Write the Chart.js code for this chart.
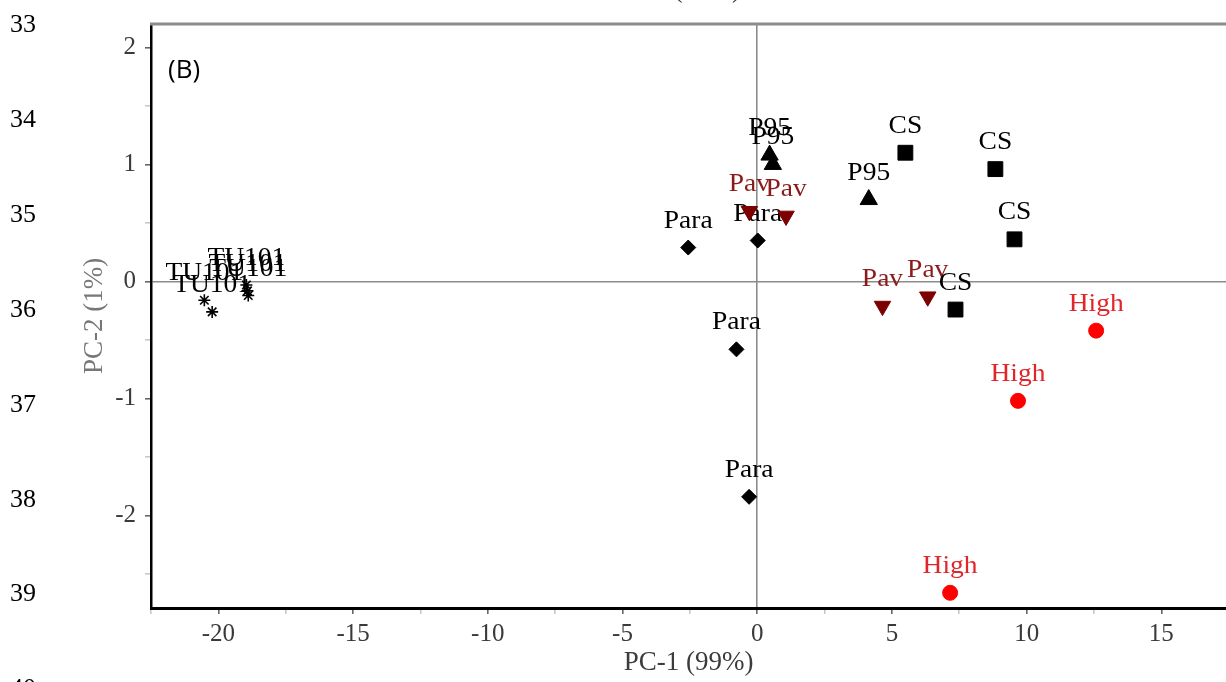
<!DOCTYPE html>
<html>
<head>
<meta charset="utf-8">
<script src="https://cdn.jsdelivr.net/npm/chart.js@4.4.0/dist/chart.umd.min.js"></script>
<style>
  html, body { margin: 0; padding: 0; background: #fff; overflow: hidden; }
  #wrap { position: relative; width: 1226px; height: 682px; }
</style>
</head>
<body>
<div id="wrap"><canvas id="pca" width="1226" height="682"></canvas></div>
<script>
// PCA score plot (B)
const tuX = [-20.52, -20.23, -18.96, -18.92, -18.89];
const tuY = [-0.16, -0.26, -0.03, -0.08, -0.12];
const paraX = [-2.56, 0.02, -0.77, -0.30];
const paraY = [0.29, 0.35, -0.58, -1.84];
const p95X = [0.46, 0.58, 4.14];
const p95Y = [1.08, 1.00, 0.70];
const pavX = [-0.29, 1.07, 4.65, 6.33];
const pavY = [0.60, 0.56, -0.21, -0.13];
const csX = [5.50, 8.84, 9.55, 7.36];
const csY = [1.10, 0.96, 0.36, -0.24];
const highX = [12.58, 9.68, 7.16];
const highY = [-0.42, -1.02, -2.66];

const xTicks = [-20, -15, -10, -5, 0, 5, 10, 15];
const xMinor = [-22.5, -17.5, -12.5, -7.5, -2.5, 2.5, 7.5, 12.5];
const yTicks = [-2, -1, 0, 1, 2];
const yMinor = [-2.5, -1.5, -0.5, 0.5, 1.5];

const lineNumbers = ['33', '34', '35', '36', '37', '38', '39', '40'];

const serif = '"Liberation Serif", "Times New Roman", serif';

function pts(xs, ys) { return xs.map((x, i) => ({ x: x, y: ys[i] })); }

function series(name, xs, ys, style, color, radius, extra) {
    return Object.assign({
        label: name,
        data: pts(xs, ys),
        pointStyle: style,
        pointRadius: radius,
        pointBackgroundColor: color,
        pointBorderColor: color,
        pointBorderWidth: 1,
        labelColor: '#000'
    }, extra || {});
}

const datasets = [
    series('TU101', tuX, tuY, 'star', '#000', 6, { pointBorderWidth: 1.6 }),
    series('Para', paraX, paraY, 'rectRot', '#000', 7.5),
    series('P95', p95X, p95Y, 'triangle', '#000', 10),
    series('Pav', pavX, pavY, 'triangle', '#7d0000', 9.5, { pointRotation: 180, labelColor: '#8b1a1a' }),
    series('CS', csX, csY, 'rect', '#000', 10.5),
    series('High', highX, highY, 'circle', '#ff0000', 7.5, { labelColor: '#e0262b' })
];

// sample names above each point, and page decorations
const decor = {
    id: 'decor',
    beforeDatasetsDraw(chart) {
        const ctx = chart.ctx;
        ctx.save();
        ctx.font = '25px ' + serif;
        ctx.textAlign = 'center';
        ctx.textBaseline = 'alphabetic';
        chart.data.datasets.forEach((ds, i) => {
            const meta = chart.getDatasetMeta(i);
            ctx.fillStyle = ds.labelColor;
            meta.data.forEach(p => {
                ctx.save();
                ctx.translate(p.x, p.y - 20);
                ctx.scale(1.1, 1);
                ctx.fillText(ds.label, 0, 0);
                ctx.restore();
            });
        });
        ctx.restore();
    },
    afterDraw(chart) {
        const ctx = chart.ctx;
        const a = chart.chartArea;
        ctx.save();
        // top frame line
        ctx.strokeStyle = '#8c8c8c';
        ctx.lineWidth = 3;
        ctx.beginPath();
        ctx.moveTo(a.left - 1, a.top);
        ctx.lineTo(a.right, a.top);
        ctx.stroke();
        // document line numbers
        ctx.fillStyle = '#000';
        ctx.font = '26px ' + serif;
        ctx.textAlign = 'left';
        ctx.textBaseline = 'alphabetic';
        lineNumbers.forEach((n, i) => ctx.fillText(n, 10, 32 + i * 94.9));
        // panel letter
        ctx.font = '26px "Open Sans", "Noto Sans", sans-serif';
        ctx.fillText('(B)', 168, 78);
        // bottom of the previous panel's axis title
        ctx.fillStyle = '#333';
        ctx.font = '27px ' + serif;
        ctx.textAlign = 'center';
        ctx.fillText('PC-1 (99%)', 676, -3);
        ctx.restore();
    }
};

new Chart(document.getElementById('pca').getContext('2d'), {
    type: 'scatter',
    data: { datasets: datasets },
    options: {
        responsive: false,
        animation: false,
        layout: { autoPadding: false, padding: { top: 23, left: 0, right: 0, bottom: 0 } },
        plugins: { legend: { display: false }, tooltip: { enabled: false } },
        scales: {
            x: {
                type: 'linear',
                min: -22.5,
                max: 17.4,
                afterFit: s => { s.height = 74; },
                afterBuildTicks: s => {
                    s.ticks = xTicks.concat(xMinor).sort((a, b) => a - b).map(v => ({ value: v }));
                },
                ticks: {
                    autoSkip: false,
                    maxRotation: 0,
                    padding: 5,
                    color: '#3a3a3a',
                    font: { family: serif, size: 25 },
                    callback: v => xTicks.includes(v) ? String(v) : ''
                },
                grid: {
                    color: c => (c.tick && c.tick.value === 0) ? '#8c8c8c' : 'rgba(0,0,0,0)',
                    tickColor: c => (c.tick && xTicks.includes(c.tick.value)) ? '#666' : '#c8c8c8',
                    lineWidth: 1.6,
                    tickLength: 6
                },
                border: { color: '#000', width: 3 },
                title: {
                    display: true,
                    text: 'PC-1 (99%)',
                    color: '#3c3c3c',
                    font: { family: serif, size: 27 },
                    padding: { top: 0, bottom: 3 }
                }
            },
            y: {
                type: 'linear',
                min: -2.79,
                max: 2.2,
                afterFit: s => { s.width = 151; },
                afterBuildTicks: s => {
                    s.ticks = yTicks.concat(yMinor).sort((a, b) => a - b).map(v => ({ value: v }));
                },
                ticks: {
                    autoSkip: false,
                    padding: 9,
                    color: '#3a3a3a',
                    font: { family: serif, size: 25 },
                    callback: v => yTicks.includes(v) ? String(v) : ''
                },
                grid: {
                    color: c => (c.tick && c.tick.value === 0) ? '#8c8c8c' : 'rgba(0,0,0,0)',
                    tickColor: c => (c.tick && yTicks.includes(c.tick.value)) ? '#666' : '#c8c8c8',
                    lineWidth: 1.6,
                    tickLength: 6
                },
                border: { color: '#000', width: 2.5 },
                title: {
                    display: true,
                    text: 'PC-2 (1%)',
                    color: '#777',
                    font: { family: serif, size: 27 },
                    padding: { top: 79, bottom: 0 }
                }
            }
        }
    },
    plugins: [decor]
});
</script>
</body>
</html>
